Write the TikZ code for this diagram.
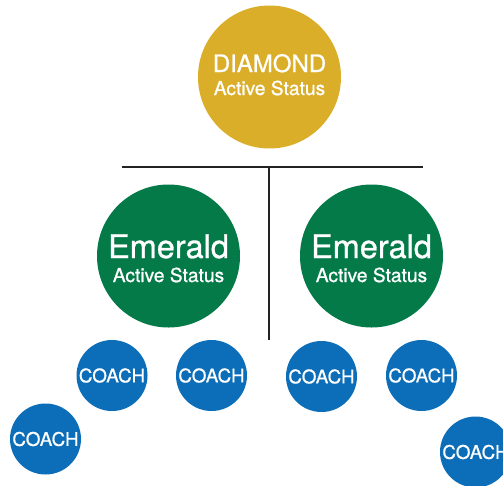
\documentclass[tikz,border=0pt]{standalone}
\usepackage{fontspec}
\setmainfont{TeX Gyre Heros}[FakeBold=0.9]
\usetikzlibrary{positioning}

\definecolor{gold}{HTML}{DAAE29}
\definecolor{emerald}{HTML}{047A48}
\definecolor{coachblue}{HTML}{0C6EB8}
\definecolor{barline}{HTML}{222222}

\begin{document}
\begin{tikzpicture}[
    x=1pt, y=-1pt,
    bubble/.style={circle,inner sep=0pt},
    diamondbub/.style={bubble,fill=gold,minimum size=143pt},
    emeraldbub/.style={bubble,fill=emerald,minimum size=143pt},
    coachbub/.style={bubble,fill=coachblue,minimum size=71pt,text=white,
        font=\fontsize{18.8}{19}\selectfont},
    rank/.style={text=white,inner sep=0pt,anchor=base},
    status/.style={rank,font=\fontsize{19.2}{20}\selectfont},
    line/.style={barline,line width=2pt}
]
\useasboundingbox (0,0) rectangle (503,485);

% === Top rank ===
\node[diamondbub] (D) at (269.5,77) {};
\node[rank,font=\fontsize{24}{24}\selectfont] (Dname) at (269.5,72) {DIAMOND};
\node[status] (Dstat) at (269.5,95) {Active Status};

% === Bar ===
\coordinate (barL) at (122,167);
\coordinate (barR) at (423,167);
\coordinate (barM) at (269,167);
\coordinate (stem) at (269,340);
\draw[line] (barL) -- (barR);
\draw[line] (barM) -- (stem);

% === Emerald ranks ===
\node[emeraldbub] (E1) at (168.5,256) {};
\node[emeraldbub] (E2) at (371.5,256) {};
\node[rank,font=\fontsize{32.5}{33}\selectfont] (E1name) at (168.5,258) {Emerald};
\node[rank,font=\fontsize{32.5}{33}\selectfont] (E2name) at (371.5,258) {Emerald};
\node[status] (E1stat) at (168.5,282) {Active Status};
\node[status] (E2stat) at (371.5,282) {Active Status};

% === Coaches ===
\node[coachbub] (C1) at (112,375.5) {COACH};
\node[coachbub] (C2) at (211.5,375.5) {COACH};
\node[coachbub] (C3) at (321.5,376.5) {COACH};
\node[coachbub] (C4) at (421.5,375.5) {COACH};
\node[coachbub] (C5) at (45.5,439) {COACH};
\node[coachbub] (C6) at (475.5,452) {COACH};

\end{tikzpicture}
\end{document}
